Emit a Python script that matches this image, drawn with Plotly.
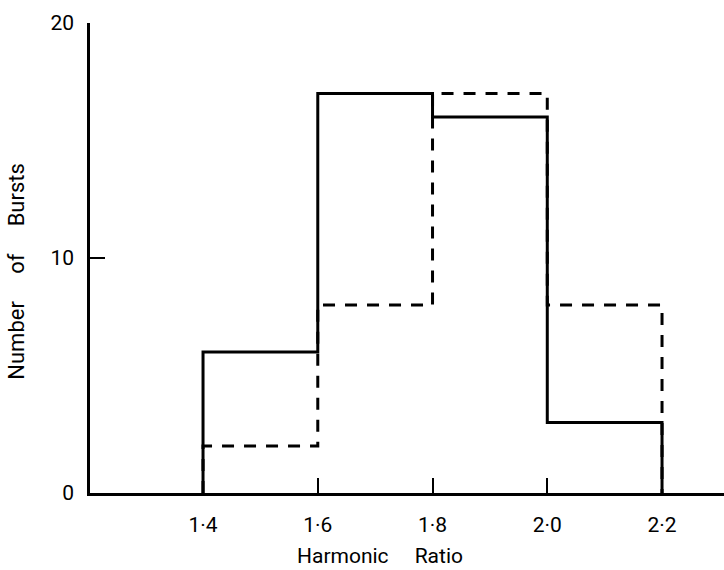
import plotly.graph_objects as go

# Data
bin_edges = [1.4, 1.6, 1.8, 2.0, 2.2]
solid_counts = [6, 17, 16, 3]
dashed_counts = [2, 8, 17, 8]
x_ticks = [1.4, 1.6, 1.8, 2.0, 2.2]
x_tick_labels = ["1·4", "1·6", "1·8", "2·0", "2·2"]
y_ticks = [0, 10, 20]
y_tick_labels = ["0", "10", "20"]


def step_path(edges, counts):
    xs, ys = [edges[0]], [0]
    for i, c in enumerate(counts):
        xs += [edges[i], edges[i + 1]]
        ys += [c, c]
    xs.append(edges[-1])
    ys.append(0)
    return xs, ys


FONT = "Roboto, DejaVu Sans, sans-serif"

fig = go.Figure()
dx, dy = step_path(bin_edges, dashed_counts)
fig.add_trace(go.Scatter(x=dx, y=dy, mode="lines",
                         line=dict(color="black", width=3, dash="12px,10px"),
                         hoverinfo="skip"))
sx, sy = step_path(bin_edges, solid_counts)
fig.add_trace(go.Scatter(x=sx, y=sy, mode="lines",
                         line=dict(color="black", width=3),
                         hoverinfo="skip"))

fig.update_layout(
    width=724, height=570,
    margin=dict(l=90, r=0, t=23, b=77),
    paper_bgcolor="white", plot_bgcolor="white",
    showlegend=False,
    font=dict(family=FONT, color="black", size=21),
    xaxis=dict(range=[1.203, 2.308], showgrid=False, zeroline=False,
               showline=True, linecolor="black", linewidth=2.5,
               ticks="inside", ticklen=15, tickwidth=2, tickcolor="black",
               tickvals=x_ticks, ticktext=x_tick_labels,
               tickfont=dict(family=FONT, size=21),
               ticklabelstandoff=11),
    yaxis=dict(range=[0, 20], showgrid=False, zeroline=False,
               showline=True, linecolor="black", linewidth=2.5,
               ticks="inside", ticklen=15, tickwidth=2, tickcolor="black",
               tickvals=y_ticks, ticktext=y_tick_labels,
               tickfont=dict(family=FONT, size=21),
               ticklabelstandoff=9),
    annotations=[
        dict(text="Harmonic\u00a0\u00a0\u00a0\u00a0\u00a0Ratio", xref="paper", yref="paper",
             x=0.457, y=-0.134, xanchor="center", yanchor="middle",
             showarrow=False, font=dict(family=FONT, size=21)),
        dict(text="Number\u00a0\u00a0\u00a0\u00a0\u00a0of\u00a0\u00a0\u00a0\u00a0\u00a0Bursts",
             xref="paper", yref="paper",
             x=-0.115, y=0.471, xanchor="center", yanchor="middle",
             textangle=-90, showarrow=False, font=dict(family=FONT, size=22)),
    ],
)

fig.write_html("out.html", config={"displayModeBar": False},
               post_script="document.body.style.margin='0';document.body.style.padding='0';")
